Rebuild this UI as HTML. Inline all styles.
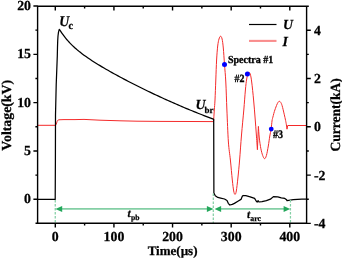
<!DOCTYPE html>
<html><head><meta charset="utf-8"><style>
html,body{margin:0;padding:0;background:#fff;width:342px;height:258px;overflow:hidden}
svg{display:block;will-change:transform}
text{font-family:"Liberation Serif",serif;text-rendering:geometricPrecision}
</style></head><body>
<svg width="342" height="258" viewBox="0 0 342 258">
<g fill="none" stroke-linejoin="round">
<path d="M37.60 125.30 L55.40 125.30 L56.20 124.30 L57.20 121.30 L58.40 119.80 L64.00 119.60 L75.00 119.60 L84.00 119.40 L100.00 120.20 L120.00 120.80 L137.00 121.20 L160.00 121.40 L190.00 121.50 L213.10 121.60 L213.60 121.30 C213.72 119.42 214.07 113.55 214.30 110.00 C214.53 106.45 214.75 105.00 215.00 100.00 C215.25 95.00 215.53 86.67 215.80 80.00 C216.07 73.33 216.28 65.67 216.60 60.00 C216.92 54.33 217.30 49.50 217.70 46.00 C218.10 42.50 218.52 40.63 219.00 39.00 C219.48 37.37 220.08 36.20 220.60 36.20 C221.12 36.20 221.65 37.03 222.10 39.00 C222.55 40.97 222.90 43.75 223.30 48.00 C223.70 52.25 224.08 58.83 224.50 64.50 C224.92 70.17 225.40 74.42 225.80 82.00 C226.20 89.58 226.47 100.00 226.90 110.00 C227.33 120.00 227.82 133.67 228.40 142.00 C228.98 150.33 229.75 153.67 230.40 160.00 C231.05 166.33 231.75 174.83 232.30 180.00 C232.85 185.17 233.25 188.60 233.70 191.00 C234.15 193.40 234.57 194.40 235.00 194.40 C235.43 194.40 235.82 193.73 236.30 191.00 C236.78 188.27 237.35 183.17 237.90 178.00 C238.45 172.83 239.00 167.17 239.60 160.00 C240.20 152.83 240.80 143.33 241.50 135.00 C242.20 126.67 243.15 117.50 243.80 110.00 C244.45 102.50 244.92 95.17 245.40 90.00 C245.88 84.83 246.20 81.92 246.70 79.00 C247.20 76.08 247.82 73.33 248.40 72.50 C248.98 71.67 249.65 72.42 250.20 74.00 C250.75 75.58 251.13 77.67 251.70 82.00 C252.27 86.33 253.03 94.00 253.60 100.00 C254.17 106.00 254.65 112.33 255.10 118.00 C255.55 123.67 255.92 128.72 256.30 134.00 C256.68 139.28 257.22 147.08 257.40 149.70 L258.40 126.40 C258.55 128.33 258.88 134.27 259.30 138.00 C259.72 141.73 260.33 145.88 260.90 148.80 C261.47 151.72 262.08 153.85 262.70 155.50 C263.32 157.15 263.98 158.70 264.60 158.70 C265.22 158.70 265.78 157.62 266.40 155.50 C267.02 153.38 267.73 149.25 268.30 146.00 C268.87 142.75 269.33 138.82 269.80 136.00 C270.27 133.18 270.73 131.60 271.10 129.10 C271.47 126.60 271.77 122.75 272.00 121.00 C272.23 119.25 272.28 119.52 272.50 118.60 C272.72 117.68 272.98 116.70 273.30 115.50 C273.62 114.30 273.87 113.07 274.40 111.40 C274.93 109.73 275.90 107.00 276.50 105.50 C277.10 104.00 277.53 103.10 278.00 102.40 C278.47 101.70 278.87 101.33 279.30 101.30 C279.73 101.27 280.13 101.48 280.60 102.20 C281.07 102.92 281.50 103.60 282.10 105.60 C282.70 107.60 283.62 111.72 284.20 114.20 C284.78 116.68 285.25 118.83 285.60 120.50 C285.95 122.17 286.18 123.58 286.30 124.20 L287.00 129.20 L287.70 125.50 L292.00 125.50 L300.00 125.50 L306.60 125.50" stroke="#f42a2a" stroke-width="1.0"/>
<path d="M37.60 199.45 L55.2 199.45 L55.40 160.00 L55.50 115.00 L56.20 85.00 L57.30 56.00 L57.50 47.00 L57.70 41.00 L58.00 36.00 L58.50 32.20 L59.25 29.40 L60.00 30.25 L60.75 31.43 L61.50 32.56 L62.25 33.65 L63.00 34.70 L63.75 35.72 L64.50 36.71 L65.25 37.66 L66.00 38.59 L66.75 39.48 L67.50 40.35 L68.25 41.20 L69.00 42.03 L69.75 42.83 L70.50 43.61 L71.25 44.37 L72.00 45.11 L72.75 45.84 L73.50 46.55 L74.25 47.24 L75.00 47.92 L75.75 48.58 L76.50 49.23 L77.25 49.87 L78.00 50.50 L78.75 51.11 L79.50 51.72 L80.00 52.11 L82.00 53.66 L84.00 55.15 L86.00 56.59 L88.00 57.98 L90.00 59.33 L92.00 60.65 L94.00 61.94 L96.00 63.20 L98.00 64.44 L100.00 65.65 L102.00 66.84 L104.00 68.02 L106.00 69.18 L108.00 70.33 L110.00 71.46 L112.00 72.58 L114.00 73.69 L116.00 74.79 L118.00 75.88 L120.00 76.96 L122.00 78.03 L124.00 79.09 L126.00 80.14 L128.00 81.19 L130.00 82.22 L132.00 83.25 L134.00 84.27 L136.00 85.28 L138.00 86.29 L140.00 87.28 L142.00 88.27 L144.00 89.26 L146.00 90.23 L148.00 91.20 L150.00 92.16 L152.00 93.12 L154.00 94.07 L156.00 95.01 L158.00 95.94 L160.00 96.87 L162.00 97.79 L164.00 98.70 L166.00 99.61 L168.00 100.51 L170.00 101.40 L172.00 102.29 L174.00 103.17 L176.00 104.04 L178.00 104.91 L180.00 105.77 L182.00 106.62 L184.00 107.47 L186.00 108.31 L188.00 109.14 L190.00 109.97 L192.00 110.79 L194.00 111.60 L196.00 112.41 L198.00 113.21 L200.00 114.00 L202.00 114.79 L204.00 115.57 L206.00 116.34 L208.00 117.11 L210.00 117.87 L212.00 118.62 L213.30 119.10 L213.70 119.30 L213.90 193.00 L215.30 195.70 L217.80 197.40 L220.70 198.10 L224.50 199.00 L227.00 200.50 L228.40 203.60 L229.90 205.00 L232.30 204.40 L234.40 203.40 L237.90 201.20 L241.00 199.40 L242.30 196.30 L243.20 195.50 L245.80 195.70 L250.20 196.80 L254.60 198.40 L256.30 201.20 L257.20 202.00 L258.10 200.70 L259.00 202.00 L262.00 201.60 L266.40 200.70 L270.40 199.20 L273.40 196.60 L277.80 196.80 L281.30 197.80 L284.80 198.40 L286.60 199.80 L287.00 200.70 L288.80 200.30 L293.20 199.70 L297.50 199.40 L301.90 199.20 L306.60 199.20" stroke="#000" stroke-width="1.25"/>
</g>
<g stroke="#84cfa5" fill="none">
<path d="M55.25 200V223M213.3 193.6V223M290.45 200V223" stroke-width="1.25" stroke-dasharray="2.4 1.6"/>
<path d="M61 208.9H208M220 208.9H284" stroke-width="1.7"/>
</g>
<g fill="#23a75b">
<path d="M55.4 208.9L62.2 205.9V211.9Z"/>
<path d="M213.4 208.9L206.9 205.9V211.9Z"/>
<path d="M214.6 208.9L221.1 205.9V211.9Z"/>
<path d="M290.2 208.9L283.6 205.9V211.9Z"/>
</g>
<g fill="#0000ff">
<circle cx="224.5" cy="64.5" r="2.5"/>
<circle cx="247.4" cy="74" r="2.5"/>
<circle cx="271.25" cy="129.1" r="2.4"/>
</g>
<g stroke="#000" fill="none" stroke-width="1.4">
<path d="M37.6 6.2H306.6V223.2H37.6Z M35.5 223.2H37.6 M306.6 6.2H308.8"/>
<path d="M55.30 223.20V227.40 M55.30 6.20V10.60 M113.93 223.20V227.40 M113.93 6.20V10.60 M172.55 223.20V227.40 M172.55 6.20V10.60 M231.18 223.20V227.40 M231.18 6.20V10.60 M289.80 223.20V227.40 M289.80 6.20V10.60 M84.61 223.20V225.40 M84.61 6.20V8.40 M143.24 223.20V225.40 M143.24 6.20V8.40 M201.86 223.20V225.40 M201.86 6.20V8.40 M260.49 223.20V225.40 M260.49 6.20V8.40 M37.60 199.30H33.40 M37.60 150.98H33.40 M37.60 102.65H33.40 M37.60 54.33H33.40 M37.60 6.00H33.40 M37.60 175.14H35.40 M37.60 126.81H35.40 M37.60 78.49H35.40 M37.60 30.16H35.40 M306.60 223.40H310.80 M306.60 175.10H310.80 M306.60 126.80H310.80 M306.60 78.50H310.80 M306.60 30.20H310.80 M306.60 199.25H308.80 M306.60 150.95H308.80 M306.60 102.65H308.80 M306.60 54.35H308.80"/>
</g>
<g stroke-width="1.2" fill="none">
<path d="M249 24.5H276.5" stroke="#000"/>
<path d="M249 40.9H276.5" stroke="#f98d8d" stroke-width="2.1"/>
</g>
<g font-family="Liberation Serif" font-weight="bold" font-size="13.8" fill="#000" stroke="#000" stroke-width="0.25">
<text x="31.0" y="203.40" text-anchor="end">0</text>
<text x="31.0" y="155.08" text-anchor="end">5</text>
<text x="31.0" y="106.75" text-anchor="end">10</text>
<text x="31.0" y="58.43" text-anchor="end">15</text>
<text x="31.0" y="10.10" text-anchor="end">20</text>
<text x="314.0" y="227.80">-4</text>
<text x="314.0" y="179.50">-2</text>
<text x="314.0" y="131.20">0</text>
<text x="314.0" y="82.90">2</text>
<text x="314.0" y="34.60">4</text>
<text x="55.30" y="241.0" text-anchor="middle">0</text>
<text x="113.93" y="241.0" text-anchor="middle">100</text>
<text x="172.55" y="241.0" text-anchor="middle">200</text>
<text x="231.18" y="241.0" text-anchor="middle">300</text>
<text x="289.80" y="241.0" text-anchor="middle">400</text>
<text x="172.6" y="254.5" text-anchor="middle" font-size="13">Time(µs)</text>
<text transform="translate(10.5 115.3) rotate(-90)" text-anchor="middle" font-size="13.8">Voltage(kV)</text>
<text transform="translate(339.7 114.9) rotate(-90)" text-anchor="middle" font-size="14" textLength="73.2" lengthAdjust="spacingAndGlyphs">Current(kA)</text>
<text transform="translate(59.3 25.5) scale(1 1.07)" font-style="italic" stroke="#000" stroke-width="0.25">U</text><text transform="translate(68.4 28.6) scale(1 1.1)" font-size="10">c</text>
<text x="195.6" y="109" font-style="italic" stroke="#000" stroke-width="0.25">U</text><text x="204.5" y="112.9" font-size="9">br</text>
<text x="127.5" y="217.1" font-style="italic" font-size="11.5">t</text><text x="131" y="219.9" font-size="7.6">pb</text>
<text x="246.9" y="217.6" font-style="italic" font-size="11.5">t</text><text x="250.3" y="221.0" font-size="7.8">arc</text>
<text transform="translate(228 62.6) scale(1 1.07)" font-size="10" stroke="#000" stroke-width="0.3">Spectra #1</text>
<text transform="translate(234.6 81.6) scale(1 1.1)" font-size="10" stroke="#000" stroke-width="0.3">#2</text>
<text transform="translate(273.1 137.8) scale(1 1.16)" font-size="10" stroke="#000" stroke-width="0.3">#3</text>
<text x="283" y="29" font-style="italic" stroke="#000" stroke-width="0.25">U</text>
<text x="282.5" y="46" font-style="italic" stroke="#000" stroke-width="0.25">I</text>
</g>
</svg>
</body></html>
